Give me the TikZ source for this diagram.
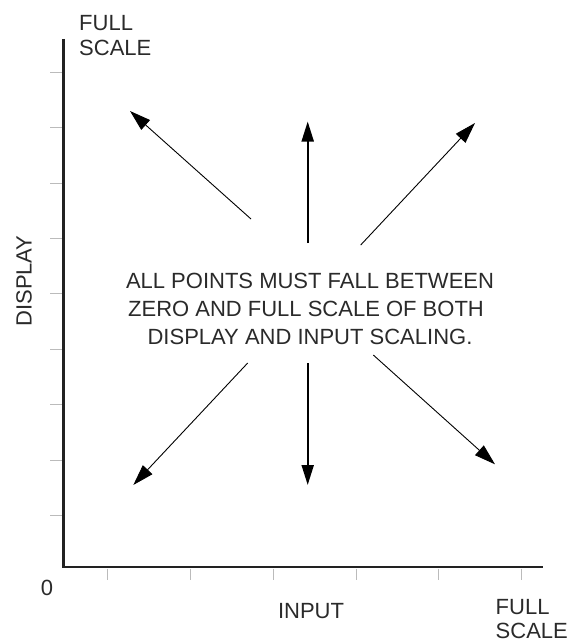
\documentclass[tikz,border=0pt]{standalone}
\usepackage{fontspec}
\setmainfont{Liberation Sans}
\usetikzlibrary{arrows.meta}
\definecolor{axiscol}{HTML}{222222}
\definecolor{tickcol}{HTML}{BBBBBB}
\definecolor{textcol}{HTML}{2A2A2A}
\begin{document}
\begin{tikzpicture}[x=1pt,y=-1pt,
  lbl/.style={inner sep=0pt, text=textcol, font=\fontsize{22}{25}\selectfont},
  axisline/.style={draw=axiscol, line width=2.5pt},
  tickline/.style={draw=tickcol, line width=1pt},
  diagarrow/.style={draw=black, line width=0.9pt, -{Triangle[length=21pt,width=13pt]}},
  vertarrow/.style={draw=black, line width=2pt, -{Triangle[length=20pt,width=12pt]}}]
\useasboundingbox (0,0) rectangle (570,642);
% axes
\coordinate (ytop) at (63.5,39);
\coordinate (origin) at (63.5,567);
\coordinate (xend) at (543,567);
\draw[axisline, line join=miter] (ytop) -- (origin) -- (xend);
% y ticks
\foreach \yy in {72,127,183,238,293,349,404,460,515}
  \draw[tickline] (50,\yy) -- (62,\yy);
% x ticks
\foreach \xx in {107,190,273,356,438,521}
  \draw[tickline] (\xx,568.5) -- (\xx,580);
% labels
\node[lbl, anchor=base west] (fstop) at (79,31) {FULL};
\node[lbl, anchor=base west] (sctop) at (79,56) {SCALE};
\node[lbl, anchor=base west] (fsbot) at (495.5,614) {FULL};
\node[lbl, anchor=base west] (scbot) at (495.5,638.5) {SCALE};
\node[lbl, anchor=base] (zero) at (47,595.5) {0};
\node[lbl, anchor=base] (input) at (311,618) {INPUT};
\node[lbl, rotate=90, anchor=base] (display) at (31.5,281) {DISPLAY};
% center text
\node[lbl, anchor=base] (t1) at (310,288) {ALL POINTS MUST FALL BETWEEN};
\node[lbl, anchor=base] (t2) at (306,316) {ZERO AND FULL SCALE OF BOTH};
\node[lbl, anchor=base] (t3) at (310,344) {DISPLAY AND INPUT SCALING.};
% arrows
\coordinate (ulT) at (251,219);   \coordinate (ulH) at (130,111);
\coordinate (uT) at (307.7,243);  \coordinate (uH) at (307.7,121.5);
\coordinate (urT) at (360.7,245); \coordinate (urH) at (475,123);
\coordinate (dlT) at (247.7,363); \coordinate (dlH) at (133.3,485);
\coordinate (dT) at (307.7,363);  \coordinate (dH) at (307.7,485);
\coordinate (drT) at (373.3,355); \coordinate (drH) at (495,464.3);
\draw[diagarrow] (ulT) -- (ulH);
\draw[vertarrow] (uT) -- (uH);
\draw[diagarrow] (urT) -- (urH);
\draw[diagarrow] (dlT) -- (dlH);
\draw[vertarrow] (dT) -- (dH);
\draw[diagarrow] (drT) -- (drH);
\end{tikzpicture}
\end{document}
